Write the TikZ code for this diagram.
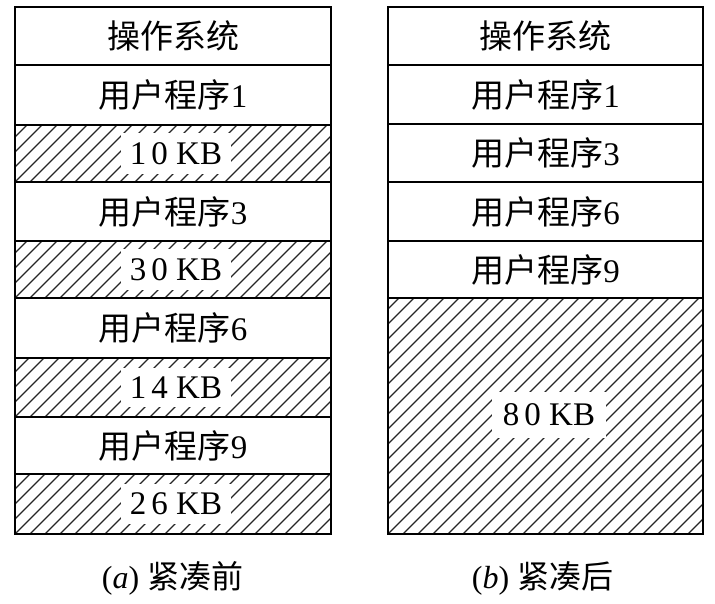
\documentclass[tikz,border=0pt]{standalone}
\usepackage{fontspec}
\setmainfont{Liberation Serif}
\newfontfamily\cjk{Noto Sans CJK SC}
\newcommand{\prog}[1]{{\cjk 用户程序}{\rmfamily #1}}
\newcommand{\kb}[2]{#1\kern5pt#2 KB}
\begin{document}
\begin{tikzpicture}[x=1pt,y=-1pt,
  cellbox/.style={draw=black, line width=2.2pt, inner sep=0pt, font=\fontsize{33}{35}\selectfont},
  hatched/.style={path picture={
      \foreach \k in {-20,...,26}
        \draw[line width=1.1pt, black!85] ([xshift=\k*15pt]path picture bounding box.south west) -- ++(600pt,600pt);
    }},
  lbl/.style={fill=white, inner xsep=9pt, inner ysep=9pt, font=\fontsize{33}{35}\selectfont},
  biglbl/.style={lbl, inner xsep=11pt, inner ysep=12pt},
  captext/.style={inner sep=0pt, font=\fontsize{32}{34}\selectfont}]
\useasboundingbox (0,0) rectangle (715,604);
% left column (before compaction)
\node[cellbox, minimum width=316pt, minimum height=58pt] (l1) at (173,36) {{\cjk 操作系统}};
\node[cellbox, minimum width=316pt, minimum height=60pt] (l2) at (173,95) {\prog{1}};
\node[cellbox, hatched, minimum width=316pt, minimum height=57pt] (l3) at (173,153.5) {};
\node[cellbox, minimum width=316pt, minimum height=59pt] (l4) at (173,211.5) {\prog{3}};
\node[cellbox, hatched, minimum width=316pt, minimum height=57pt] (l5) at (173,269.5) {};
\node[cellbox, minimum width=316pt, minimum height=60pt] (l6) at (173,328) {\prog{6}};
\node[cellbox, hatched, minimum width=316pt, minimum height=59pt] (l7) at (173,387.5) {};
\node[cellbox, minimum width=316pt, minimum height=57pt] (l8) at (173,445.5) {\prog{9}};
\node[cellbox, hatched, minimum width=316pt, minimum height=60pt] (l9) at (173,504) {};
\node[lbl] (t3) at (176,153.5) {\kb{1}{0}};
\node[lbl] (t5) at (176,269.5) {\kb{3}{0}};
\node[lbl] (t7) at (176,387.5) {\kb{1}{4}};
\node[lbl] (t9) at (176,504) {\kb{2}{6}};
% right column (after compaction)
\node[cellbox, minimum width=315pt, minimum height=58pt] (r1) at (545.5,36) {{\cjk 操作系统}};
\node[cellbox, minimum width=315pt, minimum height=59pt] (r2) at (545.5,94.5) {\prog{1}};
\node[cellbox, minimum width=315pt, minimum height=58pt] (r3) at (545.5,153) {\prog{3}};
\node[cellbox, minimum width=315pt, minimum height=59pt] (r4) at (545.5,211.5) {\prog{6}};
\node[cellbox, minimum width=315pt, minimum height=57pt] (r5) at (545.5,269.5) {\prog{9}};
\node[cellbox, hatched, minimum width=315pt, minimum height=236pt] (r6) at (545.5,416) {};
\node[biglbl] (t6) at (549,415) {\kb{8}{0}};
% captions
\node[captext] (capa) at (172.5,578) {(\textit{a}) {\cjk 紧凑前}};
\node[captext] (capb) at (542.5,578) {(\textit{b}) {\cjk 紧凑后}};
\end{tikzpicture}
\end{document}
